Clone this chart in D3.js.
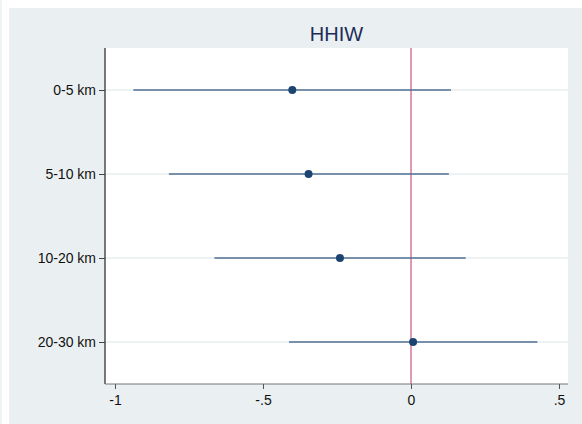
<!DOCTYPE html>
<html>
<head>
<meta charset="utf-8">
<script src="https://cdn.jsdelivr.net/npm/d3@7"></script>
<style>
  html, body { margin: 0; padding: 0; background: #ffffff; }
  svg { display: block; }
</style>
</head>
<body>
<svg id="chart" width="582" height="424"></svg>
<script>
// Coefficient estimates with 95% confidence intervals, by distance band
const categories = ["0-5 km", "5-10 km", "10-20 km", "20-30 km"];
const estimates  = [-0.401, -0.346, -0.240, 0.007];
const ciLow      = [-0.938, -0.818, -0.664, -0.412];
const ciHigh     = [0.135, 0.128, 0.185, 0.427];
const xTicks     = [-1, -0.5, 0, 0.5];
const xTickLabels = ["-1", "-.5", "0", ".5"];
const title = "HHIW";

const W = 582, H = 424;
const plot = { left: 105, right: 568, top: 48, bottom: 384 };

const svg = d3.select("#chart");

// Thin strip of the neighbouring panel at the left edge
svg.append("rect").attr("x", 0).attr("y", 0).attr("width", 2).attr("height", H)
  .attr("fill", "#eef3f5");

// Graph region background
svg.append("rect").attr("x", 9).attr("y", 8).attr("width", W - 9).attr("height", H - 8)
  .attr("fill", "#eaf0f2");

// Plot region background
svg.append("rect")
  .attr("x", plot.left).attr("y", plot.top)
  .attr("width", plot.right - plot.left).attr("height", plot.bottom - plot.top)
  .attr("fill", "#ffffff");

const x = d3.scaleLinear()
  .domain([-1.0338, 0.5304])
  .range([plot.left, plot.right]);

const y = d3.scalePoint()
  .domain(categories)
  .range([90, 342]);

// Horizontal grid lines at each category
svg.append("g").selectAll("line").data(categories).join("line")
  .attr("x1", plot.left).attr("x2", plot.right)
  .attr("y1", d => y(d)).attr("y2", d => y(d))
  .attr("stroke", "#eef2f3").attr("stroke-width", 2);

// Reference line at zero
svg.append("line")
  .attr("x1", x(0)).attr("x2", x(0))
  .attr("y1", plot.top).attr("y2", plot.bottom)
  .attr("stroke", "#c9577a").attr("stroke-width", 1.2);

// Confidence intervals
svg.append("g").selectAll("line").data(categories).join("line")
  .attr("x1", (d, i) => x(ciLow[i]))
  .attr("x2", (d, i) => x(ciHigh[i]))
  .attr("y1", d => y(d)).attr("y2", d => y(d))
  .attr("stroke", "#4f7094").attr("stroke-width", 1.6);

// Point estimates
svg.append("g").selectAll("circle").data(categories).join("circle")
  .attr("cx", (d, i) => x(estimates[i]))
  .attr("cy", d => y(d))
  .attr("r", 4)
  .attr("fill", "#1b4470");

// Y axis
const yAxis = d3.axisLeft(y).tickSize(6).tickPadding(3);
const gy = svg.append("g").attr("transform", `translate(${plot.left},0)`).call(yAxis);
gy.select(".domain").attr("d", `M0,${plot.top}V${plot.bottom}`).attr("stroke", "#222").attr("stroke-width", 1.2);
gy.selectAll(".tick line").attr("stroke", "#444");
gy.selectAll(".tick text")
  .attr("font-family", "Liberation Sans, Arial, sans-serif")
  .attr("font-size", 14).attr("fill", "#111");

// X axis
const xAxis = d3.axisBottom(x)
  .tickValues(xTicks)
  .tickFormat((d, i) => xTickLabels[i])
  .tickSize(5).tickPadding(6);
const gx = svg.append("g").attr("transform", `translate(0,${plot.bottom})`).call(xAxis);
gx.select(".domain").attr("d", `M${plot.left},0H${plot.right}`).attr("stroke", "#777").attr("stroke-width", 1.2);
gx.selectAll(".tick line").attr("stroke", "#555");
gx.selectAll(".tick text")
  .attr("font-family", "Liberation Sans, Arial, sans-serif")
  .attr("font-size", 14).attr("fill", "#111");

// Title
svg.append("text")
  .attr("x", (plot.left + plot.right) / 2)
  .attr("y", 41)
  .attr("text-anchor", "middle")
  .attr("font-family", "Liberation Sans, Arial, sans-serif")
  .attr("font-size", 20)
  .attr("fill", "#1e2d57")
  .text(title);
</script>
</body>
</html>
